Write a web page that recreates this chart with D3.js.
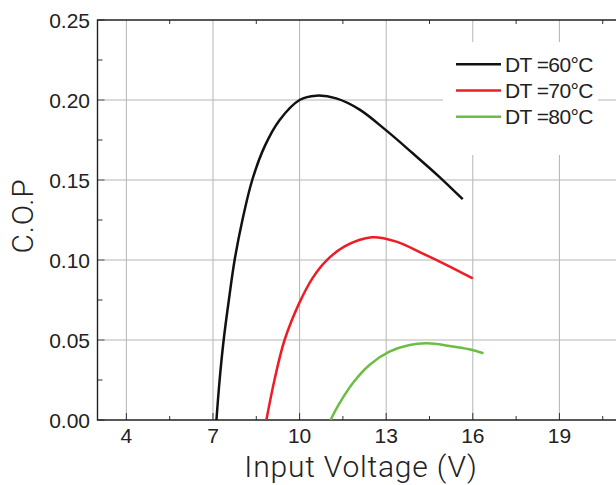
<!DOCTYPE html>
<html>
<head>
<meta charset="utf-8">
<script src="https://cdn.jsdelivr.net/npm/d3@7.9.0/dist/d3.min.js"></script>
<style>
  body { margin: 0; background: #fff; }
  svg { display: block; }
  .tick-label { font-family: "Liberation Sans", Arial, sans-serif; font-size: 21px; fill: #222; }
  .axis-title { font-family: Roboto, "DejaVu Sans", sans-serif; font-weight: 300; font-size: 30px; fill: #222; letter-spacing: 0.8px; }
  .legend-text { font-family: "Liberation Sans", Arial, sans-serif; font-size: 21px; fill: #222; letter-spacing: -0.6px; }
</style>
</head>
<body>
<svg id="chart" width="616" height="485"></svg>
<script>
// data: input voltage (V) vs C.O.P
const voltage60 = [7.12, 7.23, 7.37, 7.55, 7.75, 8.02, 8.36, 8.79, 9.31, 10.0, 10.58, 11.27, 12.08, 13.0, 13.92, 14.84, 15.65];
const cop60     = [0, 0.025, 0.05, 0.075, 0.10, 0.125, 0.15, 0.171, 0.1875, 0.20, 0.2027, 0.201, 0.194, 0.181, 0.1667, 0.152, 0.138];

const voltage70 = [8.85, 9.13, 9.48, 10.0, 10.46, 10.92, 11.56, 12.5, 13.35, 14.27, 15.08, 16.0];
const cop70     = [0, 0.025, 0.05, 0.0735, 0.089, 0.0995, 0.1085, 0.1142, 0.1115, 0.104, 0.097, 0.0885];

const voltage80 = [11.07, 11.38, 11.84, 12.42, 13.11, 13.81, 14.44, 15.19, 15.88, 16.37];
const cop80     = [0, 0.0104, 0.023, 0.0344, 0.0427, 0.0469, 0.0479, 0.0463, 0.0442, 0.0417];

const seriesNames = ['DT =60°C', 'DT =70°C', 'DT =80°C'];
const seriesColors = ['#111111', '#ee1c24', '#6cbd45'];

const xTicks = [4, 7, 10, 13, 16, 19];
const yTicks = [0, 0.05, 0.10, 0.15, 0.20, 0.25];

const series = [
  voltage60.map((v, i) => [v, cop60[i]]),
  voltage70.map((v, i) => [v, cop70[i]]),
  voltage80.map((v, i) => [v, cop80[i]])
];

const svg = d3.select('#chart');
const plotLeft = 97.5, plotTop = 20, plotBottom = 420;
const x = d3.scaleLinear().domain([3, 21]).range([plotLeft, plotLeft + 18 * 28.87]);
const y = d3.scaleLinear().domain([0, 0.25]).range([plotBottom, plotTop]);
const plotRight = x(21);

// grid lines
svg.append('g').selectAll('line')
  .data(xTicks)
  .join('line')
  .attr('x1', d => x(d)).attr('x2', d => x(d))
  .attr('y1', plotTop).attr('y2', plotBottom)
  .attr('stroke', '#b4b4b4').attr('stroke-width', 1);

svg.append('g').selectAll('line')
  .data(yTicks.slice(1, -1))
  .join('line')
  .attr('x1', plotLeft).attr('x2', plotRight)
  .attr('y1', d => y(d)).attr('y2', d => y(d))
  .attr('stroke', '#b4b4b4').attr('stroke-width', 1);

// minor ticks (inward)
const xMinor = d3.range(5.5, 21, 3);
const yMinor = d3.range(0.025, 0.25, 0.05);

const tickColor = '#333';
svg.append('g').selectAll('line')
  .data(xMinor)
  .join('line')
  .attr('x1', d => x(d)).attr('x2', d => x(d))
  .attr('y1', plotBottom).attr('y2', plotBottom - 4)
  .attr('stroke', tickColor);
svg.append('g').selectAll('line')
  .data(xMinor)
  .join('line')
  .attr('x1', d => x(d)).attr('x2', d => x(d))
  .attr('y1', plotTop).attr('y2', plotTop + 4)
  .attr('stroke', tickColor);
svg.append('g').selectAll('line')
  .data(xTicks)
  .join('line')
  .attr('x1', d => x(d)).attr('x2', d => x(d))
  .attr('y1', plotBottom).attr('y2', plotBottom - 7)
  .attr('stroke', tickColor);
svg.append('g').selectAll('line')
  .data(yMinor)
  .join('line')
  .attr('x1', plotLeft).attr('x2', plotLeft + 5)
  .attr('y1', d => y(d)).attr('y2', d => y(d))
  .attr('stroke', tickColor);
svg.append('g').selectAll('line')
  .data(yTicks)
  .join('line')
  .attr('x1', plotLeft).attr('x2', plotLeft + 7)
  .attr('y1', d => y(d)).attr('y2', d => y(d))
  .attr('stroke', '#555');

// axis frame
svg.append('path')
  .attr('d', `M${plotRight},${plotTop}H${plotLeft}V${plotBottom}H${plotRight}`)
  .attr('fill', 'none').attr('stroke', '#222').attr('stroke-width', 1.4);

// tick labels
svg.append('g').selectAll('text')
  .data(yTicks)
  .join('text')
  .attr('class', 'tick-label')
  .attr('x', 90).attr('y', d => y(d))
  .attr('dy', '0.36em')
  .attr('text-anchor', 'end')
  .text(d => d3.format('.2f')(d));

svg.append('g').selectAll('text')
  .data(xTicks)
  .join('text')
  .attr('class', 'tick-label')
  .attr('x', d => x(d)).attr('y', 443)
  .attr('text-anchor', 'middle')
  .text(d => d);

// axis titles
svg.append('text')
  .attr('class', 'axis-title')
  .attr('x', 361).attr('y', 477)
  .attr('text-anchor', 'middle')
  .text('Input Voltage (V)');

svg.append('text')
  .attr('class', 'axis-title')
  .attr('transform', 'translate(33,216) rotate(-90)')
  .attr('text-anchor', 'middle')
  .text('C.O.P');

// curves
const line = d3.line()
  .x(d => x(d[0]))
  .y(d => y(d[1]))
  .curve(d3.curveCatmullRom.alpha(0.5));

svg.append('g').selectAll('path')
  .data(series)
  .join('path')
  .attr('d', line)
  .attr('fill', 'none')
  .attr('stroke', (d, i) => seriesColors[i])
  .attr('stroke-width', 2.5);

// legend
svg.append('rect')
  .attr('x', 443).attr('y', 42)
  .attr('width', 155).attr('height', 113)
  .attr('fill', '#fff');

const legend = svg.append('g').selectAll('g')
  .data(seriesNames)
  .join('g')
  .attr('transform', (d, i) => `translate(0,${64.3 + i * 26.2})`);

legend.append('line')
  .attr('x1', 456).attr('x2', 501)
  .attr('stroke', (d, i) => seriesColors[i])
  .attr('stroke-width', 2.5);

legend.append('text')
  .attr('class', 'legend-text')
  .attr('x', 505).attr('y', 0)
  .attr('dy', '0.36em')
  .text(d => d);
</script>
</body>
</html>
